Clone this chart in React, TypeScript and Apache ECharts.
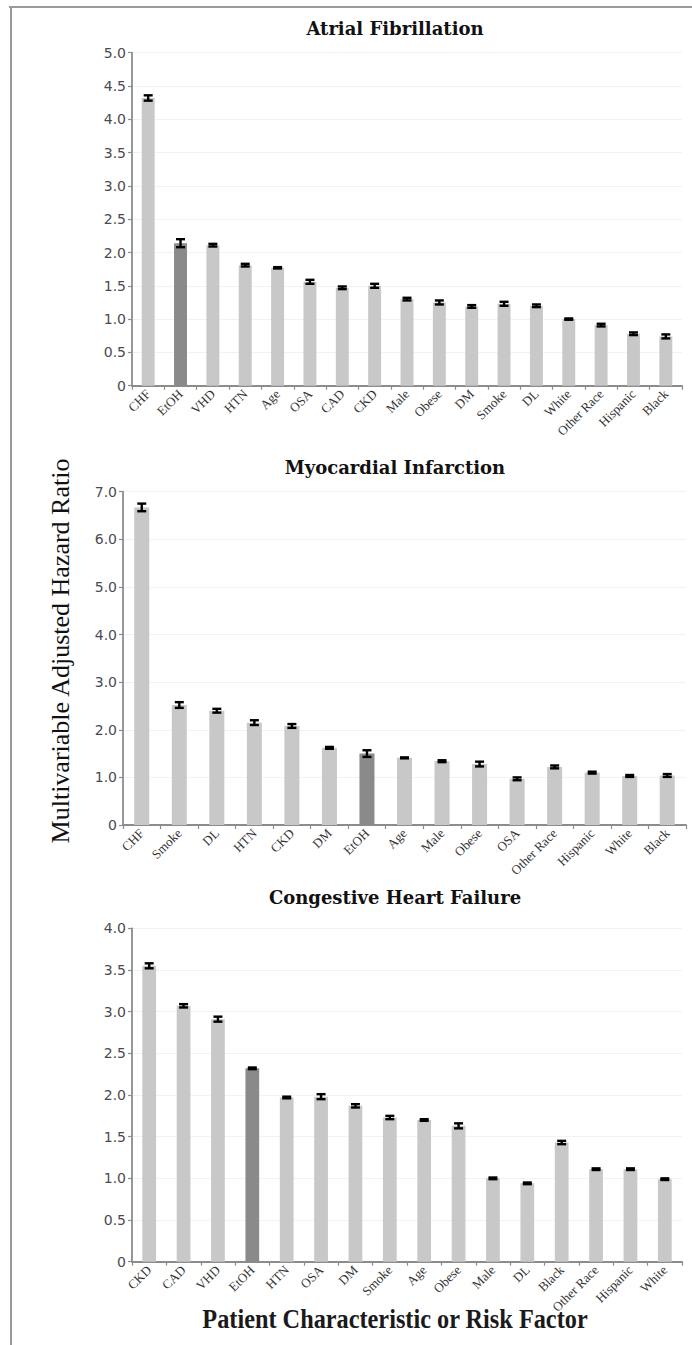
import React, { useEffect, useRef } from "react";
import * as echarts from "echarts";

// ---- Data ----
const afTitle = "Atrial Fibrillation";
const afCats = ["CHF", "EtOH", "VHD", "HTN", "Age", "OSA", "CAD", "CKD", "Male", "Obese", "DM", "Smoke", "DL", "White", "Other Race", "Hispanic", "Black"];
const afVals = [4.32, 2.14, 2.11, 1.81, 1.77, 1.56, 1.47, 1.5, 1.3, 1.25, 1.19, 1.23, 1.2, 1.0, 0.91, 0.78, 0.74];
const afErr = [0.04, 0.06, 0.02, 0.02, 0.01, 0.03, 0.02, 0.03, 0.02, 0.03, 0.02, 0.03, 0.02, 0.01, 0.02, 0.02, 0.03];

const miTitle = "Myocardial Infarction";
const miCats = ["CHF", "Smoke", "DL", "HTN", "CKD", "DM", "EtOH", "Age", "Male", "Obese", "OSA", "Other Race", "Hispanic", "White", "Black"];
const miVals = [6.67, 2.52, 2.4, 2.15, 2.08, 1.62, 1.5, 1.41, 1.34, 1.28, 0.97, 1.22, 1.1, 1.03, 1.04];
const miErr = [0.08, 0.06, 0.04, 0.05, 0.04, 0.02, 0.07, 0.01, 0.02, 0.05, 0.03, 0.03, 0.02, 0.02, 0.03];

const chfTitle = "Congestive Heart Failure";
const chfCats = ["CKD", "CAD", "VHD", "EtOH", "HTN", "OSA", "DM", "Smoke", "Age", "Obese", "Male", "DL", "Black", "Other Race", "Hispanic", "White"];
const chfVals = [3.55, 3.07, 2.91, 2.32, 1.97, 1.98, 1.87, 1.73, 1.7, 1.63, 1.0, 0.94, 1.43, 1.11, 1.11, 0.99];
const chfErr = [0.03, 0.02, 0.03, 0.01, 0.01, 0.03, 0.02, 0.02, 0.01, 0.03, 0.01, 0.01, 0.02, 0.01, 0.01, 0.01];

const yMax = [5, 7, 4];
const yInterval = [0.5, 1, 0.5];

const yAxisTitle = "Multivariable Adjusted Hazard Ratio";
const xAxisTitle = "Patient Characteristic or Risk Factor";

const panels = [
  { title: afTitle, cats: afCats, vals: afVals, err: afErr },
  { title: miTitle, cats: miCats, vals: miVals, err: miErr },
  { title: chfTitle, cats: chfCats, vals: chfVals, err: chfErr },
];

// ---- Layout ----
const gridBoxes = [
  { left: 132, top: 52.7, width: 550, height: 333 },
  { left: 123, top: 491.7, width: 563, height: 333.3 },
  { left: 132, top: 928.3, width: 550, height: 333.4 },
];
const titleY = [28, 467, 897];
const titleX = 395;

const LIGHT = "#c8c8c8";
const DARK = "#8a8a8a";
const AXIS = "#8c8c8c";

export default function App() {
  const ref = useRef<HTMLDivElement>(null);

  useEffect(() => {
    if (!ref.current) return;
    const chart = echarts.init(ref.current, undefined, { renderer: "svg" });

    const grid = gridBoxes.map((g) => ({ ...g, containLabel: false }));

    const xAxis = panels.map((p, i) => ({
      type: "category",
      gridIndex: i,
      data: p.cats,
      boundaryGap: true,
      axisLine: { show: true, lineStyle: { color: AXIS, width: 1.8 } },
      axisTick: { show: true, alignWithLabel: false, length: 4, lineStyle: { color: AXIS, width: 1.2 } },
      axisLabel: {
        interval: 0,
        rotate: 45,
        margin: 6,
        fontFamily: "Liberation Serif",
        fontSize: 13,
        color: "#333",
      },
      splitLine: { show: false },
    }));

    const yAxis = panels.map((_, i) => ({
      type: "value",
      gridIndex: i,
      min: 0,
      max: yMax[i],
      interval: yInterval[i],
      axisLine: { show: true, lineStyle: { color: AXIS, width: 1.8 } },
      axisTick: { show: true, length: 4, lineStyle: { color: AXIS, width: 1.2 } },
      axisLabel: {
        margin: 6,
        fontFamily: "DejaVu Sans",
        fontSize: 14,
        color: "#4a4a52",
        formatter: (v: number) => (v === 0 ? "0" : v.toFixed(1)),
      },
      splitLine: { show: true, lineStyle: { color: "#f2f2f2", width: 1 } },
    }));

    const series: any[] = [];
    panels.forEach((p, i) => {
      series.push({
        type: "bar",
        xAxisIndex: i,
        yAxisIndex: i,
        barWidth: "40%",
        data: p.vals.map((v, k) => ({
          value: v,
          itemStyle: { color: p.cats[k] === "EtOH" ? DARK : LIGHT },
        })),
        z: 2,
      });
      series.push({
        type: "custom",
        xAxisIndex: i,
        yAxisIndex: i,
        z: 5,
        encode: { x: 0, y: [1, 2] },
        data: p.vals.map((v, k) => [k, v - p.err[k], v + p.err[k]]),
        renderItem: (params: any, api: any) => {
          const xi = api.value(0);
          const lo = api.coord([xi, api.value(1)]);
          const hi = api.coord([xi, api.value(2)]);
          const cw = 4.5;
          const style = { stroke: "#000", lineWidth: 2.4 };
          return {
            type: "group",
            children: [
              { type: "line", shape: { x1: lo[0], y1: lo[1], x2: hi[0], y2: hi[1] }, style },
              { type: "line", shape: { x1: lo[0] - cw, y1: lo[1], x2: lo[0] + cw, y2: lo[1] }, style },
              { type: "line", shape: { x1: hi[0] - cw, y1: hi[1], x2: hi[0] + cw, y2: hi[1] }, style },
            ],
          };
        },
      });
    });

    const graphic: any[] = [
      { type: "line", shape: { x1: 9, y1: 7, x2: 692, y2: 7 }, style: { stroke: "#9a9a9a", lineWidth: 2 } },
      { type: "line", shape: { x1: 11, y1: 7, x2: 11, y2: 1345 }, style: { stroke: "#9a9a9a", lineWidth: 2 } },
      ...panels.map((p, i) => ({
        type: "text",
        x: titleX,
        y: titleY[i],
        style: {
          text: p.title,
          fontFamily: "DejaVu Serif",
          fontWeight: "bold",
          fontSize: 18,
          fill: "#111",
          textAlign: "center",
          textVerticalAlign: "middle",
        },
      })),
      {
        type: "text",
        x: 60,
        y: 651,
        rotation: Math.PI / 2,
        style: {
          text: yAxisTitle,
          fontFamily: "Liberation Serif",
          fontSize: 26,
          fill: "#111",
          textAlign: "center",
          textVerticalAlign: "middle",
        },
      },
      {
        type: "text",
        x: 395,
        y: 1319,
        scaleX: 0.9,
        style: {
          text: xAxisTitle,
          fontFamily: "Liberation Serif",
          fontWeight: "bold",
          fontSize: 27,
          fill: "#1a1a1a",
          textAlign: "center",
          textVerticalAlign: "middle",
        },
      },
    ];

    chart.setOption({
      animation: false,
      backgroundColor: "#ffffff",
      grid,
      xAxis,
      yAxis,
      series,
      graphic,
    });

    return () => chart.dispose();
  }, []);

  return (
    <div
      ref={ref}
      style={{ position: "absolute", left: 0, top: 0, width: 692, height: 1345, background: "#fff" }}
    />
  );
}
